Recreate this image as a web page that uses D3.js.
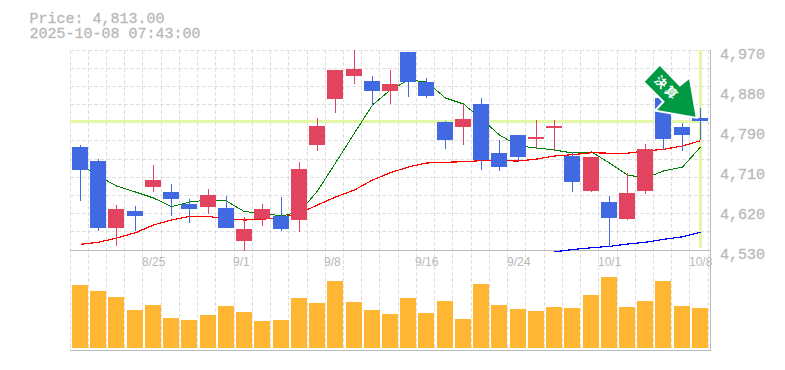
<!DOCTYPE html>
<html>
<head>
<meta charset="utf-8">
<script src="https://cdn.jsdelivr.net/npm/d3@7"></script>
<style>
  html, body { margin: 0; padding: 0; background: #fff; }
  svg { display: block; }
  text { fill: #b8b8b8; }
  .mono { font-family: "Liberation Mono", monospace; font-size: 15px; stroke: #b8b8b8; stroke-width: 0.3px; }
</style>
</head>
<body>
<svg id="chart" width="785" height="370"></svg>
<script>
const headerLines = ['Price: 4,813.00', '2025-10-08 07:43:00'];
const lastPrice = 4813;

// one entry per trading day
const opens  = [4756.6,4725.8,4578.4,4615.8,4668.6,4657.6,4631.2,4624.6,4622.4,4549.8,4598.2,4604.8,4596,4761,4862.2,4912.8,4901.8,4879.8,4965.6,4899.6,4811.6,4800.6,4851.2,4743.4,4783,4774.2,4798.4,4736.8,4659.8,4635.6,4598.2,4659.8,4864.4,4800.6,4820.4];
const closes = [4706,4578.4,4620.2,4604.8,4684,4642.2,4620.2,4651,4578.4,4576.2,4620.2,4576.2,4708.2,4802.8,4926,4928.2,4879.8,4895.2,4899.6,4868.8,4772,4818.2,4728,4712.6,4734.6,4778.6,4802.8,4679.6,4734.6,4600.4,4655.4,4752.2,4774.2,4783,4813];
const highs  = [4761,4730.2,4629,4626.8,4717,4675.2,4642.2,4664.2,4648.8,4602.6,4631.2,4646.6,4723.6,4820.4,4926,4970,4912.8,4926,4965.6,4908.4,4813.8,4851.2,4864.4,4772,4783,4816,4816,4745.6,4734.6,4648.8,4699.4,4763.2,4864.4,4809.4,4842.4];
const lows   = [4637.8,4571.8,4538.8,4571.8,4657.6,4604.8,4589.4,4609.2,4578.4,4527.8,4582.8,4571.8,4569.6,4747.8,4831.4,4895.2,4846.8,4851.2,4866.6,4864.4,4752.2,4761,4706,4703.8,4723.6,4752.2,4750,4657.6,4657.6,4536.6,4596,4653.2,4750,4747.8,4772];
const volumes = [63,57,51,38,43,30,28,33,42,36,27,28,50,45,67,46,38,34,50,35,47,29,64,43,39,37,41,40,53,71,41,47,67,42,40];

const maShort = [4717,4692.8,4670.8,4657.6,4644.4,4625.3,4635.6,4640,4637.8,4614.3,4611.4,4604.8,4613.6,4659.8,4721.4,4787.4,4849,4882,4904,4899.6,4864.4,4851.2,4818.2,4783,4758.8,4754.4,4750,4743.4,4745.6,4721.4,4695,4688.4,4703.8,4712.6,4756.6];
const maMid   = [4542.5,4547,4556.4,4568,4585,4596,4604,4604,4598,4596,4597.5,4602,4611,4629,4646.6,4662,4684,4700,4712.6,4721.4,4723,4724.3,4726.5,4726.5,4725.8,4730,4736.8,4739.7,4744,4743,4743,4748,4751.5,4758.8,4770.5];
const maLong  = [4526,4531,4535,4538,4543,4547,4553.5,4559,4569]; // starts at day 26
const maLongStart = 26;

const priceTicks = [4970,4882,4794,4706,4618,4530];
const dateIndex = [4,9,14,19,24,29,34];
const dateLabels = ['8/25','9/1','9/8','9/16','9/24','10/1','10/8'];

const svg = d3.select('#chart');
const days = d3.range(opens.length);

const x = d3.scaleBand().domain(days).range([71, 709.2]);
const y = d3.scaleLinear().domain([4970, 4530]).range([50, 250]);
const yVol = d3.scaleLinear().domain([0, 80]).range([348, 268]);

const bodyLeft = i => Math.round(x(i) + 1);
const mid = i => bodyLeft(i) + 8.5;

// grid
const gridV = d3.range(opens.length + 1).map(i => Math.floor(71 + x.step() * i) - 0.5);
const gridH = d3.range(12).map(i => 50 + i * 200 / 11);
const grid = svg.append('g').attr('stroke', '#e0e0e0').attr('stroke-dasharray', '4,2').attr('shape-rendering', 'crispEdges');
grid.selectAll('.v').data(gridV).enter().append('line')
  .attr('x1', d => d).attr('x2', d => d).attr('y1', 50).attr('y2', 350);
grid.selectAll('.h').data(gridH).enter().append('line')
  .attr('x1', 70).attr('x2', 710).attr('y1', d => Math.floor(d) + 0.5).attr('y2', d => Math.floor(d) + 0.5);

// last price crosshair
const hl = svg.append('g').attr('fill', '#e4f7a6');
hl.append('rect').attr('x', 70).attr('y', Math.round(y(lastPrice)) - 1).attr('width', mid(34) - 70).attr('height', 3);
hl.append('rect').attr('x', mid(34) - 1.5).attr('y', 50).attr('width', 3).attr('height', 198);

// frame
const frame = svg.append('g').attr('stroke', '#bbb').attr('shape-rendering', 'crispEdges');
frame.append('line').attr('x1', 70).attr('x2', 711).attr('y1', 250.5).attr('y2', 250.5);
frame.append('line').attr('x1', 70).attr('x2', 711).attr('y1', 350.5).attr('y2', 350.5);
frame.append('line').attr('x1', 710.5).attr('x2', 710.5).attr('y1', 50).attr('y2', 351);

// volume
svg.append('g').selectAll('rect').data(days).enter().append('rect')
  .attr('x', bodyLeft).attr('width', 16)
  .attr('y', i => yVol(volumes[i])).attr('height', i => yVol(0) - yVol(volumes[i]))
  .attr('fill', '#ffb733');

// moving averages sit under the candles
const ma = d3.line().x(d => mid(d[0])).y(d => y(d[1]));
const drawMa = (values, start, color, w) => svg.append('path')
  .datum(values.map((v, i) => [i + start, v]))
  .attr('d', ma).attr('fill', 'none').attr('stroke', color).attr('stroke-width', w)
  .attr('shape-rendering', 'crispEdges');
drawMa(maShort, 0, '#008000', 1);
drawMa(maMid, 0, '#ff0000', 1.2);
drawMa(maLong, maLongStart, '#0000ff', 1.2);

// candles, blue = close below open
const candleColor = i => closes[i] < opens[i] ? '#4169e1' : '#e2435f';
const candles = svg.append('g').selectAll('g').data(days).enter().append('g').attr('fill', candleColor);
candles.append('rect')
  .attr('x', i => bodyLeft(i) + 8).attr('width', 1)
  .attr('y', i => Math.round(y(highs[i])))
  .attr('height', i => Math.round(y(lows[i])) - Math.round(y(highs[i])));
candles.append('rect')
  .attr('x', bodyLeft).attr('width', 16)
  .attr('y', i => Math.round(y(Math.max(opens[i], closes[i]))))
  .attr('height', i => Math.max(2, Math.round(y(Math.min(opens[i], closes[i]))) - Math.round(y(Math.max(opens[i], closes[i])))));

// earnings arrow, outline given relative to its tip
const arrowShape = [[0,0],[-6.4,-37.4],[-15.7,-30],[-35.7,-50.7],[-50.7,-35],[-30.7,-15],[-38.4,-6.7]];
const arrow = svg.append('g').attr('transform', `translate(${mid(34) - 5},${y(lastPrice) - 4.7})`);
arrow.append('polygon')
  .attr('points', arrowShape.map(p => p.join(',')).join(' '))
  .attr('fill', '#009944').attr('stroke', '#fff').attr('stroke-width', 4).attr('paint-order', 'stroke');
arrow.append('text')
  .attr('transform', 'translate(-28.7,-28.4) rotate(45)')
  .attr('text-anchor', 'middle').attr('dy', '0.36em')
  .style('fill', '#fff')
  .style('font-family', '"Noto Sans CJK JP"').style('font-size', '12px').style('font-weight', 700).style('letter-spacing', '2.5px')
  .text('決算');

// price axis
const yAxis = d3.axisRight(y).tickValues(priceTicks).tickSize(0).tickPadding(0)
  .tickFormat(d => d3.format(',')(Math.round(d / 10) * 10));
const yG = svg.append('g').attr('transform', 'translate(720,0)').call(yAxis);
yG.select('.domain').remove();
yG.selectAll('text').attr('class', 'mono').attr('x', 0).attr('dy', 8);
yG.attr('font-family', null).attr('font-size', null);

// date labels
svg.append('g').selectAll('text').data(dateLabels).enter().append('text')
  .attr('x', (d, i) => mid(dateIndex[i]) - 11.5).attr('y', 266)
  .style('font-family', '"Liberation Sans", sans-serif').style('font-size', '12px')
  .text(d => d);

// header
svg.append('g').selectAll('text').data(headerLines).enter().append('text')
  .attr('class', 'mono').attr('x', 29.5).attr('y', (d, i) => 23 + i * 14.5)
  .text(d => d);
</script>
</body>
</html>
